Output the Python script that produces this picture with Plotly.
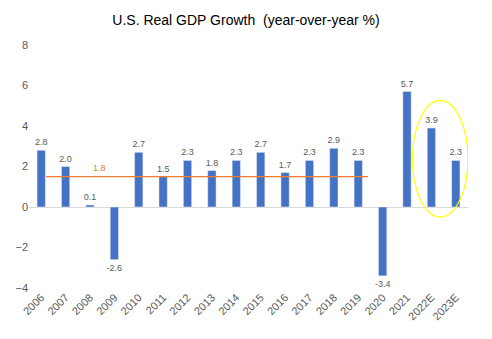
import plotly.graph_objects as go

years = ["2006", "2007", "2008", "2009", "2010", "2011", "2012", "2013", "2014",
         "2015", "2016", "2017", "2018", "2019", "2020", "2021", "2022E", "2023E"]
growth = [2.8, 2.0, 0.1, -2.6, 2.7, 1.5, 2.3, 1.8, 2.3,
          2.7, 1.7, 2.3, 2.9, 2.3, -3.4, 5.7, 3.9, 2.3]
avg_value = 1.5
avg_label = "1.8"
y_ticks = [-4, -2, 0, 2, 4, 6, 8]

fig = go.Figure()
fig.add_trace(go.Bar(
    x=years, y=growth,
    marker_color="#4472C4",
    text=[f"{v:.1f}" for v in growth],
    textposition="outside",
    constraintext="none",
    textfont=dict(size=9, color="#595959", family="Liberation Sans"),
    cliponaxis=False,
))

# average line (2006-2019)
fig.add_shape(type="line", xref="x", yref="y",
              x0=0.2, x1=13.4, y0=avg_value, y1=avg_value,
              line=dict(color="#ED7D31", width=1.2))
fig.add_annotation(x=2.4, y=avg_value, yshift=9, text=avg_label, showarrow=False,
                   font=dict(size=9, color="#ED7D31", family="Liberation Sans"))

# yellow ellipse around estimates
fig.add_shape(type="circle", xref="x", yref="y",
              x0=15.22, x1=17.5, y0=-0.5, y1=5.25,
              line=dict(color="#FFFF00", width=1.2))

fig.update_layout(
    width=492, height=339,
    margin=dict(l=29, r=24, t=45, b=51),
    paper_bgcolor="white", plot_bgcolor="white",
    showlegend=False,
    bargap=0.66,
    title=dict(text="U.S. Real GDP Growth  (year-over-year %)", x=0.5, xanchor="center",
               y=0.94, yanchor="middle",
               font=dict(size=14, color="#000000", family="Liberation Sans")),
    font=dict(family="Liberation Sans", color="#595959"),
    xaxis=dict(type="category", tickangle=-45, showgrid=False, showline=False,
               zeroline=False, ticks="", tickfont=dict(size=11, color="#595959"),
               range=[-0.5, 17.5]),
    yaxis=dict(range=[-4, 8], tickvals=y_ticks, showgrid=False, showline=False,
               zeroline=True, zerolinecolor="#D9D9D9", zerolinewidth=1,
               ticks="", tickfont=dict(size=11, color="#595959")),
)

fig.write_html("out.html")
